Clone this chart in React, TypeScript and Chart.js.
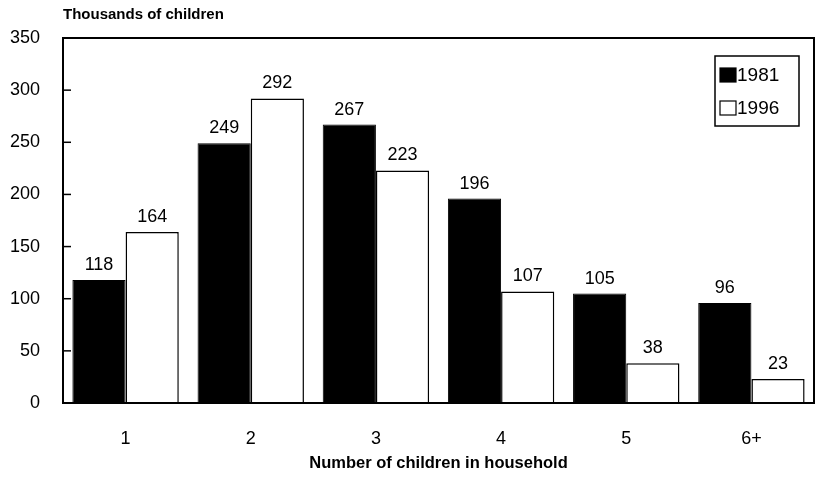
import React, { useEffect, useRef } from "react";
import { Chart, registerables } from "chart.js";

Chart.register(...registerables);

const categories = ["1", "2", "3", "4", "5", "6+"];
const series1981 = [118, 249, 267, 196, 105, 96];
const series1996 = [164, 292, 223, 107, 38, 23];
const seriesLabels = ["1981", "1996"];
const yTicks = [0, 50, 100, 150, 200, 250, 300, 350];
const yTitle = "Thousands of children";
const xTitle = "Number of children in household";

const FONT = "'Liberation Sans', Arial, sans-serif";

const framePlugin = {
  id: "framePlugin",
  afterDatasetsDraw(chart: any) {
    const { ctx, chartArea } = chart;
    const { left, top, right, bottom } = chartArea;
    ctx.save();
    // frame
    ctx.strokeStyle = "#000";
    ctx.lineWidth = 2;
    ctx.strokeRect(left, top, right - left, bottom - top);
    // inward ticks on y axis
    const ys = chart.scales.y;
    ctx.lineWidth = 1.5;
    yTicks.forEach((v) => {
      const py = ys.getPixelForValue(v);
      ctx.beginPath();
      ctx.moveTo(left, py);
      ctx.lineTo(left + 8, py);
      ctx.stroke();
    });
    // data labels
    ctx.fillStyle = "#000";
    ctx.font = `18px ${FONT}`;
    ctx.textAlign = "center";
    ctx.textBaseline = "alphabetic";
    chart.data.datasets.forEach((ds: any, di: number) => {
      const meta = chart.getDatasetMeta(di);
      meta.data.forEach((bar: any, i: number) => {
        ctx.fillText(String(ds.data[i]), bar.x, bar.y - 10);
      });
    });
    // y title
    ctx.font = `bold 15px ${FONT}`;
    ctx.textAlign = "left";
    ctx.textBaseline = "middle";
    ctx.fillText(yTitle, left, 15);
    // legend
    const lx = 715, ly = 56, lw = 84, lh = 70;
    ctx.fillStyle = "#fff";
    ctx.fillRect(lx, ly, lw, lh);
    ctx.strokeStyle = "#000";
    ctx.lineWidth = 1.5;
    ctx.strokeRect(lx, ly, lw, lh);
    chart.data.datasets.forEach((ds: any, di: number) => {
      const cy = ly + 19 + di * 33;
      ctx.fillStyle = ds.backgroundColor;
      ctx.fillRect(lx + 5, cy - 7, 16, 14);
      ctx.strokeStyle = "#000";
      ctx.lineWidth = 1.2;
      ctx.strokeRect(lx + 5, cy - 7, 16, 14);
      ctx.fillStyle = "#000";
      ctx.font = `19px ${FONT}`;
      ctx.textAlign = "left";
      ctx.textBaseline = "middle";
      ctx.fillText(ds.label, lx + 22, cy + 1);
    });
    ctx.restore();
  },
};

export default function App() {
  const ref = useRef<HTMLCanvasElement | null>(null);
  useEffect(() => {
    document.body.style.margin = "0";
    const chart = new Chart(ref.current!, {
      type: "bar",
      data: {
        labels: categories,
        datasets: [
          {
            label: seriesLabels[0],
            data: series1981,
            backgroundColor: "#000",
            borderColor: "#000",
            borderWidth: 1,
            categoryPercentage: 0.85,
            barPercentage: 1,
          },
          {
            label: seriesLabels[1],
            data: series1996,
            backgroundColor: "#fff",
            borderColor: "#000",
            borderWidth: 1.5,
            categoryPercentage: 0.85,
            barPercentage: 1,
          },
        ],
      },
      options: {
        animation: false,
        responsive: false,
        maintainAspectRatio: false,
        layout: { padding: { top: 38, right: 6, bottom: 0, left: 0 } },
        plugins: {
          legend: { display: false },
          tooltip: { enabled: false },
        },
        scales: {
          x: {
            grid: { display: false, drawTicks: false },
            border: { display: false },
            ticks: {
              color: "#000",
              font: { size: 18, family: FONT },
              padding: 25,
            },
            title: {
              display: true,
              text: xTitle,
              color: "#000",
              font: { size: 16.5, weight: "bold", family: FONT },
              padding: { top: 6, bottom: 10 },
            },
            afterFit(scale: any) {
              scale.height = 80;
            },
          } as any,
          y: {
            min: 0,
            max: 350,
            grid: { display: false, drawTicks: false },
            border: { display: false },
            ticks: {
              stepSize: 50,
              color: "#000",
              font: { size: 18, family: FONT },
              padding: 23,
            },
            afterFit(scale: any) {
              scale.width = 63;
            },
          } as any,
        },
      },
      plugins: [framePlugin],
    });
    return () => chart.destroy();
  }, []);
  return (
    <div style={{ position: "fixed", left: 0, top: 0, width: 820, height: 483, background: "#fff" }}>
      <canvas ref={ref} width={820} height={483} style={{ width: 820, height: 483 }} />
    </div>
  );
}
